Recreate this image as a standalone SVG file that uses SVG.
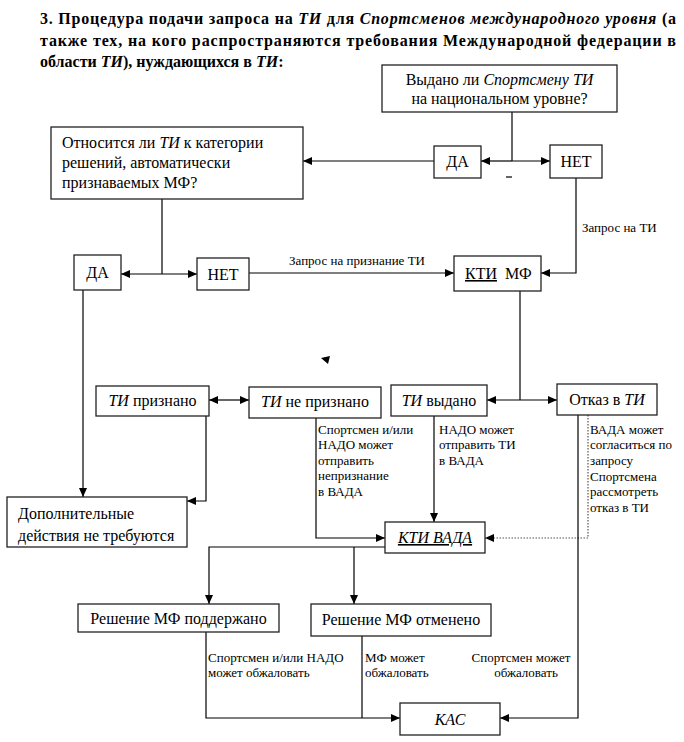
<svg xmlns="http://www.w3.org/2000/svg" width="684" height="742" viewBox="0 0 684 742" font-family="'Liberation Serif', 'DejaVu Serif', serif">
<defs>
<marker id="ah" markerUnits="userSpaceOnUse" markerWidth="9" markerHeight="8" refX="9" refY="4" orient="auto">
<path d="M0,0 L9,4 L0,8 z" fill="#000"/>
</marker>
</defs>
<style>
text{font-family:'Liberation Serif','DejaVu Serif',serif;fill:#000}
.b{font-size:16px}
.l{font-size:13px}
.h{font-size:16px;font-weight:bold}
.i{font-style:italic}
.box{fill:#fff;stroke:#222;stroke-width:1.3}
.c{fill:none;stroke:#000;stroke-width:1.2}
.ca{fill:none;stroke:#000;stroke-width:1.2;marker-end:url(#ah)}
.d{fill:none;stroke:#555;stroke-width:1.2;stroke-dasharray:1.5 1.5;marker-end:url(#ah)}
</style>
<rect width="684" height="742" fill="#fff"/>
<g id="title" class="h" font-family="'Liberation Serif', serif">
<text x="40" y="24" textLength="636" lengthAdjust="spacing">3. Процедура подачи запроса на <tspan class="i">ТИ</tspan> для <tspan class="i">Спортсменов международного уровня</tspan> (а</text>
<text x="40" y="46" textLength="636" lengthAdjust="spacing">также тех, на кого распространяются требования Международной федерации в</text>
<text x="40" y="67">области <tspan class="i">ТИ</tspan>), нуждающихся в <tspan class="i">ТИ</tspan>:</text>
</g>
<g id="connectors">
<path class="c" d="M512,112 V161"/>
<path class="ca" d="M512,161 H481"/>
<path class="ca" d="M512,161 H550"/>
<path class="ca" d="M434,161 H303"/>
<path class="c" d="M506,177 H512"/>
<path class="ca" d="M576,178 V273 H541"/>
<path class="c" d="M162,199 V274"/>
<path class="ca" d="M162,274 H121"/>
<path class="ca" d="M162,274 H197"/>
<path class="ca" d="M249,273 H454"/>
<path class="c" d="M520,291 V400"/>
<path class="ca" d="M520,400 H487"/>
<path class="ca" d="M520,400 H557"/>
<path class="ca" d="M229,400 H209"/>
<path class="ca" d="M229,400 H249"/>
<polygon points="321,358 330,356 328,364" fill="#000"/>
<path class="ca" d="M83,290 V497"/>
<path class="ca" d="M206,416 V501 H187"/>
<path class="ca" d="M316,418 V538 H385"/>
<path class="ca" d="M434,416 V522"/>
<path class="d" d="M588,415 V538 H485"/>
<path class="ca" d="M578,415 V718 H500"/>
<path class="ca" d="M385,547 H209 V604"/>
<path class="ca" d="M354,547 V604"/>
<path class="ca" d="M206,632 V718 H400"/>
<path class="c" d="M362,636 V718"/>
<g class="l" font-family="'Liberation Serif', serif">
<text x="582" y="232">Запрос на ТИ</text>
<text x="357" y="265" text-anchor="middle">Запрос на признание ТИ</text>
<text x="318" y="434">Спортсмен и/или</text>
<text x="318" y="449">НАДО может</text>
<text x="318" y="465">отправить</text>
<text x="318" y="480">непризнание</text>
<text x="318" y="496">в ВАДА</text>
<text x="439" y="434">НАДО может</text>
<text x="439" y="449">отправить ТИ</text>
<text x="439" y="465">в ВАДА</text>
<text x="590" y="434">ВАДА может</text>
<text x="590" y="449">согласиться по</text>
<text x="590" y="465">запросу</text>
<text x="590" y="481">Спортсмена</text>
<text x="590" y="496">рассмотреть</text>
<text x="590" y="512">отказ в ТИ</text>
<text x="208" y="662">Спортсмен и/или НАДО</text>
<text x="208" y="677">может обжаловать</text>
<text x="365" y="662">МФ может</text>
<text x="365" y="677">обжаловать</text>
<text x="521" y="662" text-anchor="middle">Спортсмен может</text>
<text x="526" y="677" text-anchor="middle">обжаловать</text>
</g>
</g>
<g id="n_national">
<rect class="box" x="382" y="65" width="235" height="47"/>
<text class="b" x="499.5" y="85" text-anchor="middle">Выдано ли <tspan class="i">Спортсмену ТИ</tspan></text>
<text class="b" x="499.5" y="104" text-anchor="middle">на национальном уровне?</text>
</g>
<g id="n_yes1">
<rect class="box" x="434" y="146" width="47" height="32"/>
<text class="b" x="457.5" y="167" text-anchor="middle">ДА</text>
</g>
<g id="n_no1">
<rect class="box" x="550" y="145" width="52" height="33"/>
<text class="b" x="576" y="167" text-anchor="middle">НЕТ</text>
</g>
<g id="n_category">
<rect class="box" x="51" y="127" width="252" height="72"/>
<text class="b" x="62" y="148">Относится ли <tspan class="i">ТИ</tspan> к категории</text>
<text class="b" x="62" y="168">решений, автоматически</text>
<text class="b" x="62" y="188">признаваемых МФ?</text>
</g>
<g id="n_yes2">
<rect class="box" x="74" y="255" width="47" height="35"/>
<text class="b" x="97.5" y="278" text-anchor="middle">ДА</text>
</g>
<g id="n_no2">
<rect class="box" x="197" y="258" width="52" height="32"/>
<text class="b" x="223" y="280" text-anchor="middle">НЕТ</text>
</g>
<g id="n_kti_mf">
<rect class="box" x="454" y="256" width="87" height="35"/>
<text class="b" x="465" y="279"><tspan text-decoration="underline">КТИ</tspan><tspan x="505">МФ</tspan></text>
</g>
<g id="n_recognized">
<rect class="box" x="96" y="386" width="113" height="30"/>
<text class="b" x="152.5" y="406" text-anchor="middle"><tspan class="i">ТИ</tspan> признано</text>
</g>
<g id="n_not_recognized">
<rect class="box" x="249" y="387" width="132" height="31"/>
<text class="b" x="315" y="407" text-anchor="middle"><tspan class="i">ТИ</tspan> не признано</text>
</g>
<g id="n_granted">
<rect class="box" x="391" y="385" width="96" height="31"/>
<text class="b" x="439" y="406" text-anchor="middle"><tspan class="i">ТИ</tspan> выдано</text>
</g>
<g id="n_denied">
<rect class="box" x="557" y="384" width="100" height="31"/>
<text class="b" x="607" y="405" text-anchor="middle">Отказ в <tspan class="i">ТИ</tspan></text>
</g>
<g id="n_no_action">
<rect class="box" x="7" y="497" width="180" height="50"/>
<text class="b" x="18" y="519">Дополнительные</text>
<text class="b" x="18" y="541">действия не требуются</text>
</g>
<g id="n_kti_wada">
<rect class="box" x="385" y="522" width="100" height="31"/>
<text class="b i" x="435" y="543" text-anchor="middle" text-decoration="underline">КТИ ВАДА</text>
</g>
<g id="n_upheld">
<rect class="box" x="78" y="604" width="201" height="28"/>
<text class="b" x="178.5" y="624" text-anchor="middle">Решение МФ поддержано</text>
</g>
<g id="n_reversed">
<rect class="box" x="311" y="604" width="180" height="32"/>
<text class="b" x="401" y="625" text-anchor="middle">Решение МФ отменено</text>
</g>
<g id="n_cas">
<rect class="box" x="400" y="703" width="100" height="32"/>
<text class="b i" x="450" y="725" text-anchor="middle">КАС</text>
</g>
</svg>
